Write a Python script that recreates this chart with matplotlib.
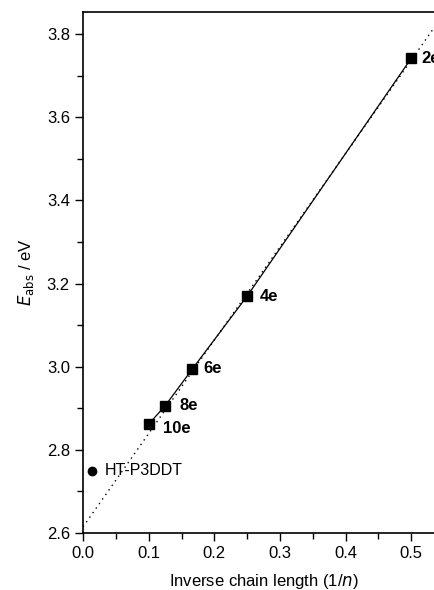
import numpy as np
import matplotlib
matplotlib.use('Agg')
import matplotlib.pyplot as plt
from matplotlib.ticker import MultipleLocator

plt.rcParams['font.family'] = ['Liberation Sans', 'DejaVu Sans']

# Datos
inv_n = [0.5, 0.25, 1/6, 0.125, 0.1]
e_abs = [3.742, 3.170, 2.995, 2.906, 2.862]
labels = ['2e', '4e', '6e', '8e', '10e']
label_offsets = [(7, 0), (9, 0), (8, 0), (10, 0), (10, -3)]

polymer_x = [0.0137]
polymer_y = [2.75]
polymer_label = 'HT-P3DDT'

# recta extrapolada (punteada)
fit_x = [0.0, 0.56]
fit_y = [2.615, 2.615 + 2.245 * 0.56]

fig = plt.figure(figsize=(4.35, 5.9), dpi=100)
ax = fig.add_axes([0.191, 0.0966, 0.83, 0.883])

ax.plot(fit_x, fit_y, ':k', lw=1.0, dashes=(1, 3))
ax.plot(inv_n, e_abs, '-k', lw=0.9)
ax.plot(inv_n, e_abs, 'sk', ms=6.5)
ax.plot(polymer_x, polymer_y, 'ok', ms=6)

for x, y, t, off in zip(inv_n, e_abs, labels, label_offsets):
  ax.annotate(t, (x, y), xytext=off, textcoords='offset points',
              ha='left', va='center', fontsize=12, fontweight='bold')
ax.annotate(polymer_label, (polymer_x[0], polymer_y[0]), xytext=(9, 0),
            textcoords='offset points', ha='left', va='center', fontsize=11.5)

ax.set_xlim(0, 0.55)
ax.set_ylim(2.6, 3.853)
ax.xaxis.set_major_locator(MultipleLocator(0.1))
ax.xaxis.set_minor_locator(MultipleLocator(0.05))
ax.yaxis.set_major_locator(MultipleLocator(0.2))
ax.yaxis.set_minor_locator(MultipleLocator(0.1))
ax.xaxis.set_major_formatter(plt.FormatStrFormatter('%.1f'))
ax.yaxis.set_major_formatter(plt.FormatStrFormatter('%.1f'))
ax.tick_params(which='major', direction='out', length=6, width=1, labelsize=12)
ax.tick_params(which='minor', direction='out', length=4, width=1)
ax.spines['right'].set_visible(False)
for s in ['left', 'bottom', 'top']:
  ax.spines[s].set_linewidth(1.2)

ax.set_xlabel(r'Inverse chain length (1/$\it{n}$)', fontsize=12, labelpad=8)
ax.set_ylabel(r'$\it{E}_{\mathrm{abs}}$ / eV', fontsize=12, labelpad=8)

fig.savefig('out.png', dpi=100)
